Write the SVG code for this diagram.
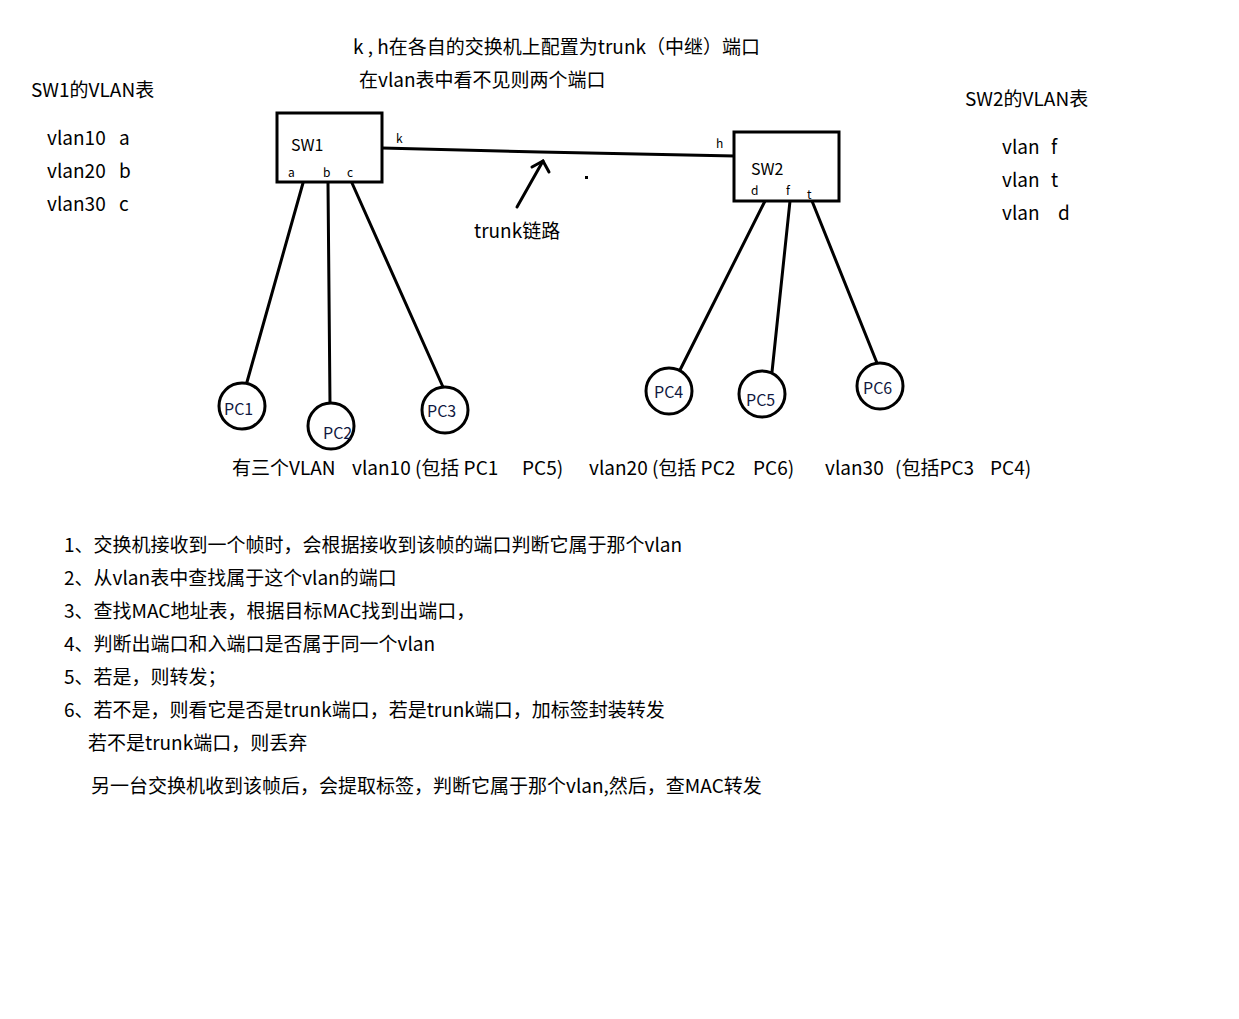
<svg xmlns="http://www.w3.org/2000/svg" width="1239" height="1019" viewBox="0 0 1239 1019">
<style>
text{font-family:"Noto Sans CJK SC","Noto Sans",sans-serif;fill:#000}
.t{font-size:19px}
.n{font-size:16px}
.p{font-size:12px}
.pc{font-size:16px;fill:#101840}
.box{fill:#fff;stroke:#000;stroke-width:3}
.c{fill:#fff;stroke:#000;stroke-width:3}
.l{fill:none;stroke:#000;stroke-width:3;stroke-linecap:round}
</style>
<rect width="1239" height="1019" fill="#fff"/>
<g id="connectors">
<polyline class="l" points="382,148 540,152 735,156"/>
<line class="l" x1="303" y1="183" x2="247" y2="382"/>
<line class="l" x1="328" y1="183" x2="330" y2="404"/>
<line class="l" x1="352" y1="183" x2="443" y2="387"/>
<line class="l" x1="765" y1="201" x2="680" y2="370"/>
<line class="l" x1="790" y1="201" x2="772" y2="372"/>
<line class="l" x1="812" y1="201" x2="877" y2="363"/>
<polyline class="l" points="517,207 543,161"/>
<polyline class="l" points="532,167 543,161 549,172"/>
<rect x="585" y="176" width="3" height="3" fill="#000"/>
</g>
<g id="SW1">
<rect class="box" x="277" y="113" width="105" height="69"/>
<text class="n" x="291" y="151">SW1</text>
<text class="p" x="288" y="177">a</text>
<text class="p" x="323" y="177">b</text>
<text class="p" x="347" y="177">c</text>
<text class="p" x="396" y="143">k</text>
</g>
<g id="SW2">
<rect class="box" x="734" y="132" width="105" height="69"/>
<text class="n" x="751" y="175">SW2</text>
<text class="p" x="751" y="195">d</text>
<text class="p" x="786" y="195">f</text>
<text class="p" x="807" y="199">t</text>
<text class="p" x="716" y="148">h</text>
</g>
<g id="PC1"><circle class="c" cx="242" cy="406" r="23"/><text class="pc" x="224" y="415">PC1</text></g>
<g id="PC2"><circle class="c" cx="331" cy="426" r="23"/><text class="pc" x="323" y="439">PC2</text></g>
<g id="PC3"><circle class="c" cx="445" cy="410" r="23"/><text class="pc" x="427" y="417">PC3</text></g>
<g id="PC4"><circle class="c" cx="669" cy="391" r="23"/><text class="pc" x="654" y="398">PC4</text></g>
<g id="PC5"><circle class="c" cx="762" cy="394" r="23"/><text class="pc" x="746" y="406">PC5</text></g>
<g id="PC6"><circle class="c" cx="880" cy="386" r="23"/><text class="pc" x="863" y="394">PC6</text></g>
<g id="labels">
<text class="t" x="353" y="54">k , h在各自的交换机上配置为trunk（中继）端口</text>
<text class="t" x="359" y="87">在vlan表中看不见则两个端口</text>
<text class="t" x="474" y="238">trunk链路</text>
<text class="t" x="31" y="97">SW1的VLAN表</text>
<text class="t" y="145"><tspan x="47">vlan10</tspan><tspan x="119">a</tspan></text>
<text class="t" y="178"><tspan x="47">vlan20</tspan><tspan x="119">b</tspan></text>
<text class="t" y="211"><tspan x="47">vlan30</tspan><tspan x="119">c</tspan></text>
<text class="t" x="965" y="106">SW2的VLAN表</text>
<text class="t" y="154"><tspan x="1002">vlan</tspan><tspan x="1051">f</tspan></text>
<text class="t" y="187"><tspan x="1002">vlan</tspan><tspan x="1051">t</tspan></text>
<text class="t" y="220"><tspan x="1002">vlan</tspan><tspan x="1058">d</tspan></text>
<text class="t" y="475"><tspan x="232">有三个VLAN</tspan><tspan x="352">vlan10 (包括 PC1</tspan><tspan x="522">PC5)</tspan><tspan x="589">vlan20 (包括 PC2</tspan><tspan x="753">PC6)</tspan><tspan x="825">vlan30</tspan><tspan x="895">(包括PC3</tspan><tspan x="990">PC4)</tspan></text>
<text class="t" x="64" y="552">1、交换机接收到一个帧时，会根据接收到该帧的端口判断它属于那个vlan</text>
<text class="t" x="64" y="585">2、从vlan表中查找属于这个vlan的端口</text>
<text class="t" x="64" y="618">3、查找MAC地址表，根据目标MAC找到出端口，</text>
<text class="t" x="64" y="651">4、判断出端口和入端口是否属于同一个vlan</text>
<text class="t" x="64" y="684">5、若是，则转发；</text>
<text class="t" x="64" y="717">6、若不是，则看它是否是trunk端口，若是trunk端口，加标签封装转发</text>
<text class="t" x="88" y="750">若不是trunk端口，则丢弃</text>
<text class="t" x="91" y="793">另一台交换机收到该帧后，会提取标签，判断它属于那个vlan,然后，查MAC转发</text>
</g>
</svg>
